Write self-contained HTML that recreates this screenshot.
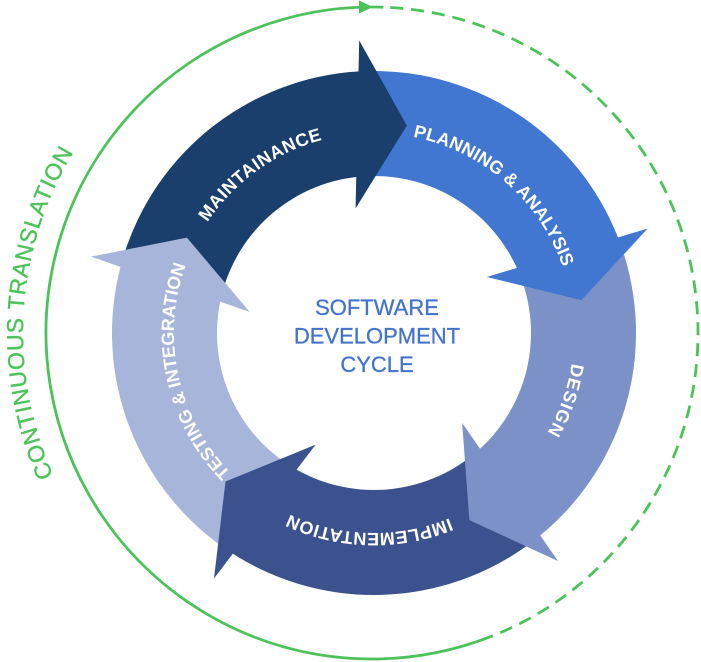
<!DOCTYPE html>
<html><head><meta charset="utf-8"><style>
html,body{margin:0;padding:0;background:#fff;}
svg{display:block;}
</style></head><body>
<svg width="701" height="662" viewBox="0 0 701 662" xmlns="http://www.w3.org/2000/svg">
<defs>
<path id="tp" d="M 374 133 A 200 200 0 1 1 374 533 A 200 200 0 1 1 374 133 Z" fill="none"/>
<path id="gp" d="M 372 -16 A 349 349 0 1 1 372 682 A 349 349 0 1 1 372 -16 Z" fill="none"/>
</defs>
<!-- green outer circle -->
<path d="M 490.42 636.73 A 326 326 0 1 1 383.38 7.20" fill="none" stroke="#4CC35A" stroke-width="2.8"/>
<path d="M 390.2 7.51 A 326 326 0 0 1 490.42 636.73" fill="none" stroke="#4CC35A" stroke-width="2.8" stroke-dasharray="13 8"/>
<polygon points="359,0.5 359,13.5 373,7" fill="#4CC35A"/>
<!-- bands -->
<path d="M 122.79 258.59 A 262 262 0 0 1 369.43 71.04 L 363.05 176.38 A 157 157 0 0 0 221.34 296.35 Z" fill="#1A3F6C"/>
<path d="M 122.79 258.59 A 262 262 0 0 1 369.43 71.04 L 363.05 176.38 A 157 157 0 0 0 221.34 296.35 Z" fill="#4176D1" transform="rotate(72 374 333)"/>
<path d="M 122.79 258.59 A 262 262 0 0 1 369.43 71.04 L 363.05 176.38 A 157 157 0 0 0 221.34 296.35 Z" fill="#7B91C8" transform="rotate(144 374 333)"/>
<path d="M 122.79 258.59 A 262 262 0 0 1 369.43 71.04 L 363.05 176.38 A 157 157 0 0 0 221.34 296.35 Z" fill="#3B528E" transform="rotate(216 374 333)"/>
<path d="M 122.79 258.59 A 262 262 0 0 1 369.43 71.04 L 363.05 176.38 A 157 157 0 0 0 221.34 296.35 Z" fill="#A7B5DA" transform="rotate(288 374 333)"/>
<!-- heads -->
<path d="M 355.59 208.35 L 359.18 40.38 L 406.85 125.59 Z" fill="#1A3F6C"/>
<path d="M 355.59 208.35 L 359.18 40.38 L 406.85 125.59 Z" fill="#4176D1" transform="rotate(72 374 333)"/>
<path d="M 355.59 208.35 L 359.18 40.38 L 406.85 125.59 Z" fill="#7B91C8" transform="rotate(144 374 333)"/>
<path d="M 355.59 208.35 L 359.18 40.38 L 406.85 125.59 Z" fill="#3B528E" transform="rotate(216 374 333)"/>
<path d="M 355.59 208.35 L 359.18 40.38 L 406.85 125.59 Z" fill="#A7B5DA" transform="rotate(288 374 333)"/>
<!-- ring labels -->
<g font-family="'Liberation Sans', sans-serif" font-weight="bold" font-size="18" fill="#ffffff">
<text letter-spacing="0.6"><textPath href="#tp" startOffset="90.1%" text-anchor="middle">MAINTAINANCE</textPath></text>
<text letter-spacing="0.1"><textPath href="#tp" startOffset="11.4%" text-anchor="middle">PLANNING &amp; ANALYSIS</textPath></text>
<text letter-spacing="1.0"><textPath href="#tp" startOffset="30.4%" text-anchor="middle">DESIGN</textPath></text>
<text letter-spacing="0.4"><textPath href="#tp" startOffset="50.4%" text-anchor="middle">IMPLEMENTATION</textPath></text>
<text letter-spacing="0"><textPath href="#tp" startOffset="71.6%" text-anchor="middle">TESTING &amp; INTEGRATION</textPath></text>
</g>
<!-- green label -->
<text font-family="'Liberation Sans', sans-serif" font-size="23" fill="#4CC35A" stroke="#4CC35A" stroke-width="0.4" letter-spacing="0.8"><textPath href="#gp" startOffset="76.0%" text-anchor="middle">CONTINUOUS TRANSLATION</textPath></text>
<!-- center text -->
<g font-family="'Liberation Sans', sans-serif" font-size="22" fill="#4473CE" stroke="#4473CE" stroke-width="0.3" text-anchor="middle">
<text x="377" y="315">SOFTWARE</text>
<text x="377" y="343.5">DEVELOPMENT</text>
<text x="377" y="372">CYCLE</text>
</g>
</svg>
</body></html>
